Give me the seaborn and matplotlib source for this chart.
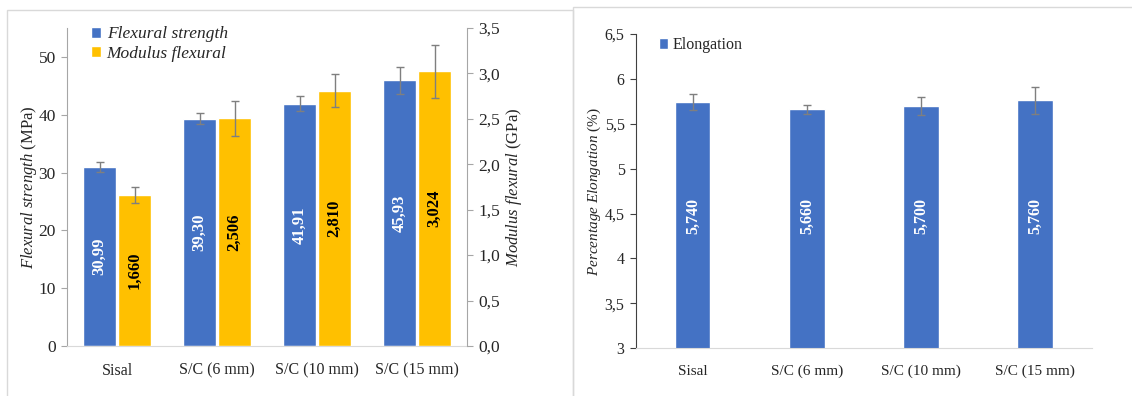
import numpy as np
import pandas as pd
import matplotlib
matplotlib.use("Agg")
import matplotlib.pyplot as plt
from matplotlib.patches import Patch, Rectangle
import seaborn as sns

# data
categories = ["Sisal", "S/C (6 mm)", "S/C (10 mm)", "S/C (15 mm)"]
flexural_strength = [30.99, 39.30, 41.91, 45.93]          # MPa
flexural_err = [0.85, 0.92, 1.28, 2.4]
flexural_modulus = [1.660, 2.506, 2.810, 3.024]           # GPa
modulus_err = [0.09, 0.19, 0.18, 0.29]
elongation = [5.740, 5.660, 5.700, 5.760]                 # %
elongation_err = [0.09, 0.054, 0.10, 0.154]

left_ticks = [0, 10, 20, 30, 40, 50]
right_ticks = [0.0, 0.5, 1.0, 1.5, 2.0, 2.5, 3.0, 3.5]
right_ticklabels = ["0,0", "0,5", "1,0", "1,5", "2,0", "2,5", "3,0", "3,5"]
elong_ticks = [3.0, 3.5, 4.0, 4.5, 5.0, 5.5, 6.0, 6.5]
elong_ticklabels = ["3", "3,5", "4", "4,5", "5", "5,5", "6", "6,5"]

BLUE = "#4472C4"
YELLOW = "#FFC000"
ERR = "#7f7f7f"
TXT = "#262626"

sns.set_style("white")
plt.rcParams["font.family"] = ["Liberation Serif", "DejaVu Serif"]
plt.rcParams["mathtext.fontset"] = "custom"
plt.rcParams["mathtext.rm"] = "Liberation Serif"
plt.rcParams["mathtext.it"] = "Liberation Serif:italic"

fig = plt.figure(figsize=(11.32, 3.96), dpi=100)

# panel frames
fig.add_artist(Rectangle((7 / 1132, -0.02), 566 / 1132, 386 / 396 + 0.02,
                         transform=fig.transFigure, fill=False, edgecolor="#d9d9d9", lw=1))
fig.add_artist(Rectangle((573 / 1132, -0.02), 0.6, 389 / 396 + 0.02,
                         transform=fig.transFigure, fill=False, edgecolor="#d9d9d9", lw=1))

# ---------- left panel: flexural strength + modulus ----------
ax = fig.add_axes([0.0592, 0.1263, 0.3534, 0.803])
ax2 = ax.twinx()

series = ["Flexural strength", "Modulus flexural"]
df_left = pd.DataFrame({
    "cat": categories * 2,
    "series": [series[0]] * 4 + [series[1]] * 4,
    "val": flexural_strength + [np.nan] * 4,
})
df_right = df_left.copy()
df_right["val"] = [np.nan] * 4 + flexural_modulus

pal = {series[0]: BLUE, series[1]: YELLOW}
sns.barplot(data=df_left, x="cat", y="val", hue="series", hue_order=series, palette=pal,
            order=categories, errorbar=None, width=0.7, gap=0.06, saturation=1,
            legend=False, ax=ax)
sns.barplot(data=df_right, x="cat", y="val", hue="series", hue_order=series, palette=pal,
            order=categories, errorbar=None, width=0.7, gap=0.06, saturation=1,
            legend=False, ax=ax2)

def bars_of(a):
    return [p for p in a.patches if np.isfinite(p.get_height()) and p.get_height() > 0]

fb = bars_of(ax)
mb = bars_of(ax2)
ax.errorbar([p.get_x() + p.get_width() / 2 for p in fb], flexural_strength, yerr=flexural_err,
            fmt="none", ecolor=ERR, elinewidth=1, capsize=3, capthick=1)
ax2.errorbar([p.get_x() + p.get_width() / 2 for p in mb], flexural_modulus, yerr=modulus_err,
             fmt="none", ecolor=ERR, elinewidth=1, capsize=3, capthick=1)

for p, v in zip(fb, flexural_strength):
    ax.text(p.get_x() + p.get_width() / 2, p.get_height() / 2, f"{v:.2f}".replace(".", ","),
            rotation=90, ha="center", va="center", color="white", fontsize=12, fontweight="bold")
for p, v in zip(mb, flexural_modulus):
    ax2.text(p.get_x() + p.get_width() / 2, p.get_height() / 2, f"{v:.3f}".replace(".", ","),
             rotation=90, ha="center", va="center", color="black", fontsize=12, fontweight="bold")

ax.set_xlim(-0.5, 3.5)
ax.set_ylim(0, 55)
ax2.set_ylim(0, 3.5)
ax.set_yticks(left_ticks)
ax.set_yticklabels([str(t) for t in left_ticks])
ax2.set_yticks(right_ticks)
ax2.set_yticklabels(right_ticklabels)
ax.set_xlabel("")
ax.set_ylabel(r"$\mathit{Flexural\ strength}$ (MPa)", fontsize=12, color=TXT, labelpad=0)
ax2.set_ylabel(r"$\mathit{Modulus\ flexural}$ (GPa)", fontsize=12, color=TXT, labelpad=3)
ax2.set_xlabel("")

for a in (ax, ax2):
    for s in a.spines.values():
        s.set_visible(False)
ax.spines["left"].set_visible(True)
ax.spines["left"].set_color("#a6a6a6")
ax.spines["bottom"].set_visible(True)
ax.spines["bottom"].set_color("#d9d9d9")
ax2.spines["right"].set_visible(True)
ax2.spines["right"].set_color("#a6a6a6")
ax.tick_params(axis="y", direction="out", length=4, color="#a6a6a6", labelsize=12.5,
               labelcolor=TXT, left=True, pad=4)
ax2.tick_params(axis="y", direction="out", length=4, color="#a6a6a6", labelsize=12.5,
                labelcolor=TXT, right=True, pad=4)
ax.tick_params(axis="x", length=0, labelsize=11.5, labelcolor=TXT, pad=12)

leg_font = {"family": "Liberation Serif", "style": "italic", "size": 12.5}
handles = [Patch(facecolor=BLUE, label=series[0]), Patch(facecolor=YELLOW, label=series[1])]
ax2.legend(handles=handles, loc="upper left", bbox_to_anchor=(0.06, 1.005), frameon=False,
           prop=leg_font, handlelength=0.6, handleheight=0.6, handletextpad=0.3,
           labelspacing=0.2, borderaxespad=0, borderpad=0)

# ---------- right panel: elongation ----------
bx = fig.add_axes([0.5616, 0.1205, 0.4031, 0.7937])
sns.barplot(x=categories, y=elongation, color=BLUE, saturation=1, width=0.31,
            errorbar=None, ax=bx)
eb = bars_of(bx)
bx.errorbar([p.get_x() + p.get_width() / 2 for p in eb], elongation, yerr=elongation_err,
            fmt="none", ecolor=ERR, elinewidth=1, capsize=3, capthick=1)
for p, v in zip(eb, elongation):
    bx.text(p.get_x() + p.get_width() / 2, 4.47, f"{v:.3f}".replace(".", ","),
            rotation=90, ha="center", va="center", color="white", fontsize=11.5, fontweight="bold")

bx.set_xlim(-0.5, 3.5)
bx.set_ylim(3, 6.5)
bx.set_yticks(elong_ticks)
bx.set_yticklabels(elong_ticklabels)
bx.set_ylabel(r"$\mathit{Percentage\ Elongation}$ (%)", fontsize=11, color=TXT, labelpad=1)
for s in bx.spines.values():
    s.set_visible(False)
bx.spines["left"].set_visible(True)
bx.spines["left"].set_color("#404040")
bx.spines["bottom"].set_visible(True)
bx.spines["bottom"].set_color("#d9d9d9")
bx.tick_params(axis="y", direction="out", length=4, color="#404040", labelsize=11.5,
               labelcolor=TXT, left=True, pad=4)
bx.tick_params(axis="x", length=0, labelsize=11, labelcolor=TXT, pad=12)
bx.legend(handles=[Patch(facecolor=BLUE, label="Elongation")], loc="upper left",
          bbox_to_anchor=(0.05, 0.99), frameon=False,
          prop={"family": "Liberation Serif", "size": 11.5},
          handlelength=0.6, handleheight=0.6, handletextpad=0.3,
          borderaxespad=0, borderpad=0)

fig.savefig("out.png", dpi=100)
